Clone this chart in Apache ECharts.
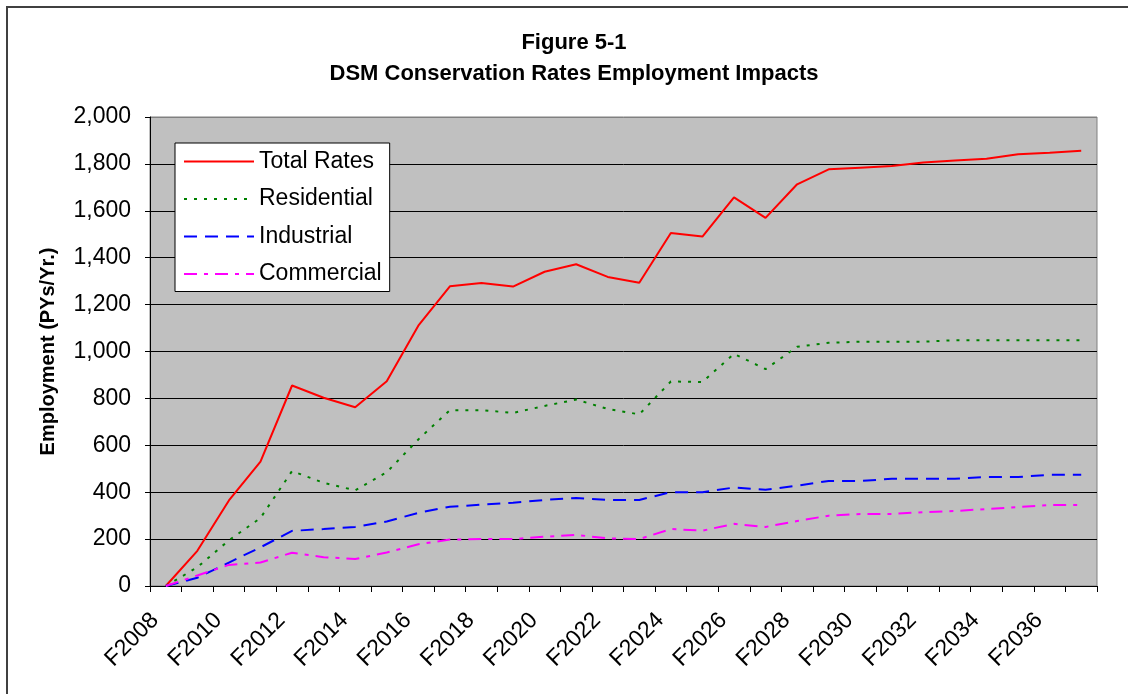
<!DOCTYPE html>
<html>
<head>
<meta charset="utf-8">
<script src="https://cdn.jsdelivr.net/npm/echarts@6/dist/echarts.min.js"></script>
<style>
html,body{margin:0;padding:0;background:#fff;}
#chart{width:1128px;height:694px;}
</style>
</head>
<body>
<div id="chart"></div>
<script>
var categories = ["F2008","F2009","F2010","F2011","F2012","F2013","F2014","F2015","F2016","F2017",
  "F2018","F2019","F2020","F2021","F2022","F2023","F2024","F2025","F2026","F2027",
  "F2028","F2029","F2030","F2031","F2032","F2033","F2034","F2035","F2036","F2037"];
var totalRates  = [0,150,365,530,855,803,762,873,1110,1278,1292,1277,1340,1372,1318,1293,1505,1490,1657,1570,1713,1777,1784,1791,1806,1815,1822,1841,1848,1856];
var residential = [0,80,195,290,490,440,408,485,625,750,750,738,768,795,755,732,872,870,990,925,1020,1037,1042,1042,1042,1048,1048,1048,1048,1048];
var industrial  = [0,35,100,165,235,243,252,275,312,338,347,355,367,375,367,367,400,400,420,410,428,448,448,457,457,457,465,465,474,474];
var commercial  = [0,45,90,100,142,123,115,143,178,198,200,200,210,218,203,200,243,236,265,252,277,300,307,307,315,320,328,337,345,345];
var seriesNames = ["Total Rates","Residential","Industrial","Commercial"];
var titleLines = ["Figure 5-1","DSM Conservation Rates Employment Impacts"];
var yAxisName = "Employment (PYs/Yr.)";

var FONT = "'Liberation Sans', Arial, sans-serif";
var chart = echarts.init(document.getElementById('chart'), null, {renderer:'canvas'});

function lineSeries(name, data, color, dash) {
  return {
    name: name, type: 'line', data: data, symbol: 'none', showSymbol: false,
    lineStyle: {color: color, width: 2, type: dash},
    itemStyle: {color: color},
    emphasis: {disabled: true},
    animation: false
  };
}

var gridColors = [];
for (var k = 0; k < 10; k++) gridColors.push('#000000');
gridColors.push('#808080');

chart.setOption({
  animation: false,
  backgroundColor: '#ffffff',
  graphic: [
    {type:'rect', shape:{x:7, y:7, width:1200, height:800}, style:{fill:'none', stroke:'#404040', lineWidth:2}, z:-10, silent:true},
    {type:'text', x:574, y:43, style:{text:titleLines[0], fontFamily:FONT, fontSize:22, fontWeight:'bold', fill:'#000', textAlign:'center', textVerticalAlign:'middle'}},
    {type:'text', x:574, y:74, style:{text:titleLines[1], fontFamily:FONT, fontSize:22, fontWeight:'bold', fill:'#000', textAlign:'center', textVerticalAlign:'middle'}}
  ],
  legend: {
    orient: 'vertical', left: 175, top: 143,
    data: seriesNames,
    itemWidth: 70, itemHeight: 14, itemGap: 14.5,
    itemStyle: {opacity: 0},
    backgroundColor: '#ffffff', borderColor: '#000000', borderWidth: 1,
    padding: [7, 8, 6, 8],
    textStyle: {fontFamily: FONT, fontSize: 23, color: '#000', lineHeight: 23},
    selectedMode: false
  },
  grid: {
    left: 150, right: 31, top: 117, bottom: 108,
    show: true, backgroundColor: '#C0C0C0', borderColor: '#808080', borderWidth: 1,
    containLabel: false
  },
  xAxis: {
    type: 'category', data: categories, boundaryGap: true,
    axisLine: {show: true, lineStyle: {color: '#000', width: 1}},
    axisTick: {show: true, interval: 0, length: 6, lineStyle: {color: '#000'}},
    axisLabel: {interval: 1, rotate: 45, margin: 20, padding: [0, 15, 0, 0],
      fontFamily: FONT, fontSize: 23, color: '#000'},
    splitLine: {show: false}
  },
  yAxis: {
    type: 'value', min: 0, max: 2000, interval: 200,
    name: yAxisName, nameLocation: 'middle', nameGap: 92,
    nameTextStyle: {fontFamily: FONT, fontSize: 20, fontWeight: 'bold', color: '#000'},
    axisLine: {show: true, lineStyle: {color: '#000', width: 1}},
    axisTick: {show: true, length: 5, lineStyle: {color: '#000'}},
    axisLabel: {margin: 19, fontFamily: FONT, fontSize: 23, color: '#000',
      formatter: function (v) { return v.toLocaleString('en-US'); }},
    splitLine: {show: true, lineStyle: {color: gridColors, width: 1}}
  },
  series: [
    lineSeries(seriesNames[0], totalRates, '#FF0000', 'solid'),
    lineSeries(seriesNames[1], residential, '#008000', [3, 7]),
    lineSeries(seriesNames[2], industrial, '#0000FF', [13, 8]),
    lineSeries(seriesNames[3], commercial, '#FF00FF', [13, 7, 4, 7])
  ]
});
</script>
</body>
</html>
